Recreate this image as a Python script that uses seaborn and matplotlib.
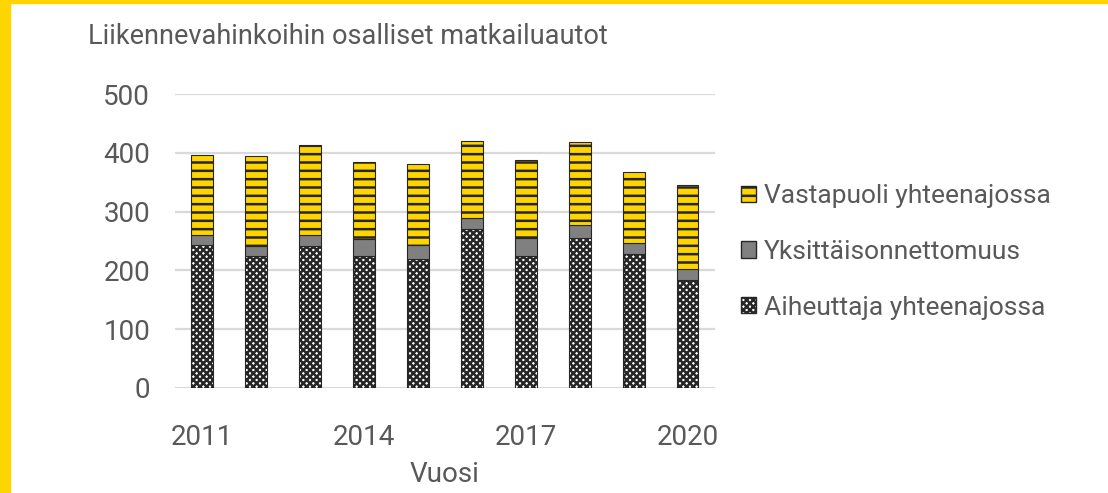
import numpy as np
import pandas as pd
import seaborn as sns
import matplotlib.pyplot as plt
from matplotlib.patches import Patch

years = [str(y) for y in range(2011, 2021)]
aiheuttaja = [244, 225, 242, 225, 219, 270, 225, 256, 228, 183]
yksittais = [16, 17, 18, 29, 25, 20, 30, 21, 18, 20]
vastapuoli = [137, 153, 154, 131, 137, 130, 133, 142, 121, 143]
tick_labels = ["2011", "", "", "2014", "", "", "2017", "", "", "2020"]

sns.set_theme(style="white")
plt.rcParams['font.family'] = ['Roboto', 'DejaVu Sans']
plt.rcParams['hatch.linewidth'] = 1.8

txt = "#595959"
yellow = "#FFD500"
grey = "#808080"

df = pd.DataFrame({"Vuosi": years, "A": aiheuttaja, "Y": yksittais, "V": vastapuoli})
bottom_y = np.array(aiheuttaja)
bottom_v = bottom_y + np.array(yksittais)

fig = plt.figure(figsize=(11.08, 4.93), dpi=100)
fig.patch.set_facecolor("white")
ax = fig.add_axes([0.158, 0.213, 0.487, 0.596])

layers = [
    ("A", None, "white", "xxxxx"),
    ("Y", bottom_y, grey, None),
    ("V", bottom_v, yellow, "--"),
]
for col, bot, fc, hatch in layers:
    n0 = len(ax.patches)
    sns.barplot(data=df, x="Vuosi", y=col, ax=ax, color=fc, width=0.4,
                bottom=bot, saturation=1, edgecolor="#262626", linewidth=0.8)
    for p in ax.patches[n0:]:
        p.set_facecolor(fc)
        if hatch:
            p.set_hatch(hatch)

ax.set_ylim(0, 500)
ax.set_xlim(-0.5, 9.5)
ax.set_yticks(range(0, 501, 100))
ax.yaxis.grid(True, color="#d9d9d9", linewidth=1.6)
ax.set_axisbelow(True)
for s in ax.spines.values():
    s.set_visible(False)
ax.set_xticks(range(10))
ax.set_xticklabels(tick_labels)
ax.tick_params(axis="both", colors=txt, labelsize=20, length=0)
ax.tick_params(axis="x", pad=26)
ax.tick_params(axis="y", pad=18)
ax.set_ylabel("")
ax.set_xlabel("Vuosi", fontsize=20, color=txt, labelpad=7)

fig.text(0.079, 0.925, "Liikennevahinkoihin osalliset matkailuautot",
         fontsize=19.5, color=txt, va="center", ha="left")

handles = [
    Patch(facecolor=yellow, edgecolor="#262626", hatch="--", label="Vastapuoli yhteenajossa"),
    Patch(facecolor=grey, edgecolor="#262626", label="Yksittäisonnettomuus"),
    Patch(facecolor="white", edgecolor="#262626", hatch="xxxxx", label="Aiheuttaja yhteenajossa"),
]
leg = fig.legend(handles=handles, loc="center left", bbox_to_anchor=(0.647, 0.489),
                 frameon=False, fontsize=19, labelcolor=txt, handlelength=0.58,
                 handleheight=0.58, handletextpad=0.3, labelspacing=1.2)

# yellow frame strips
fig.add_artist(plt.Rectangle((0, 0), 10 / 1108, 1, transform=fig.transFigure,
                             color=yellow, zorder=10))
fig.add_artist(plt.Rectangle((0, 1 - 3 / 493), 1, 3 / 493, transform=fig.transFigure,
                             color=yellow, zorder=10))

fig.savefig("out.png", dpi=100)
